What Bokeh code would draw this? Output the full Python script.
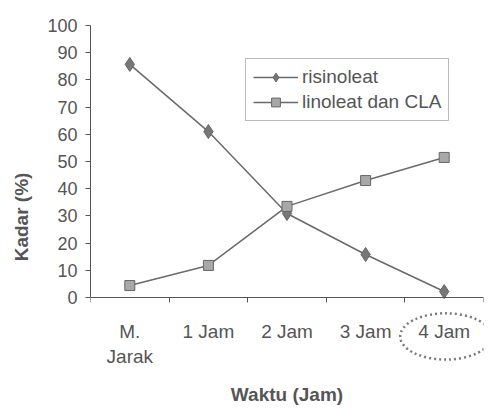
import numpy as np
from bokeh.plotting import figure
from bokeh.models import Range1d, FixedTicker, Legend, LegendItem
from bokeh.embed import file_html
from bokeh.resources import INLINE

categories = ["M.\nJarak", "1 Jam", "2 Jam", "3 Jam", "4 Jam"]
risinoleat = [85.7, 61.0, 30.9, 15.8, 2.2]
linoleat_cla = [4.4, 11.8, 33.5, 43.0, 51.5]
y_ticks = list(range(0, 101, 10))

FONT = "Liberation Sans"
TXT = "#555555"
LINE = "#6a6a6a"

xs = np.arange(len(categories)) + 0.5

# frame extends below zero so the x axis sits at y=0 (fixed_location)
p = figure(width=490, height=408, output_backend="svg", toolbar_location=None,
           x_range=Range1d(0, len(categories)), y_range=Range1d(-40.8, 100),
           min_border_left=90, min_border_top=25, min_border_bottom=0, min_border_right=7)
p.grid.visible = False
p.outline_line_color = None
p.background_fill_color = "white"
p.border_fill_color = "white"

l1 = p.line(xs, risinoleat, line_color=LINE, line_width=1.5)
s1 = p.scatter(xs, risinoleat, marker="diamond", size=14, fill_color="#777777", line_color="#666666")
l2 = p.line(xs, linoleat_cla, line_color=LINE, line_width=1.5)
s2 = p.scatter(xs, linoleat_cla, marker="square", size=10, fill_color="#a8a8a8", line_color="#666666")

# x axis
xa = p.xaxis[0]
xa.fixed_location = 0
xa.ticker = FixedTicker(ticks=list(xs), minor_ticks=list(range(len(categories) + 1)))
xa.major_label_overrides = {float(x): c for x, c in zip(xs, categories)}
xa.major_tick_line_color = None
xa.major_tick_out = 0
xa.major_tick_in = 0
xa.minor_tick_out = 5
xa.minor_tick_in = 0
xa.minor_tick_line_color = TXT
xa.axis_line_color = TXT
xa.major_label_standoff = 18
xa.major_label_text_font = FONT
xa.major_label_text_font_size = "19px"
xa.major_label_text_color = TXT
xa.axis_label = "Waktu (Jam)"
xa.axis_label_text_font = FONT
xa.axis_label_text_font_size = "19px"
xa.axis_label_text_font_style = "bold"
xa.axis_label_text_color = TXT
xa.axis_label_standoff = 14

ya = p.yaxis[0]
ya.bounds = (0, 100)
ya.ticker = FixedTicker(ticks=y_ticks, minor_ticks=[])
ya.major_tick_out = 5
ya.major_tick_in = 0
ya.major_tick_line_color = TXT
ya.axis_line_color = TXT
ya.major_label_standoff = 8
ya.major_label_text_font = FONT
ya.major_label_text_font_size = "18px"
ya.major_label_text_color = TXT
ya.axis_label = "Kadar (%)"
ya.axis_label_text_font = FONT
ya.axis_label_text_font_size = "19px"
ya.axis_label_text_font_style = "bold"
ya.axis_label_text_color = TXT
ya.axis_label_standoff = 12

legend = Legend(items=[LegendItem(label="risinoleat", renderers=[l1, s1]),
                       LegendItem(label="linoleat dan CLA", renderers=[l2, s2])],
                location=(155, 287), label_text_font=FONT, label_text_font_size="19px",
                label_text_color=TXT, glyph_width=45, glyph_height=22, spacing=3,
                padding=7, margin=0, label_standoff=4, border_line_color="#777777",
                border_line_width=1, background_fill_color="white", background_fill_alpha=1)
p.add_layout(legend)

# dotted ellipse highlighting the last category label
p.ellipse(x=[xs[-1] + 0.02], y=[-14.3], width=1.16, height=17.0, fill_color=None,
          line_color="#7a7a7a", line_width=2.5, line_dash="2 3")

open("out.html", "w").write(file_html(p, INLINE))
